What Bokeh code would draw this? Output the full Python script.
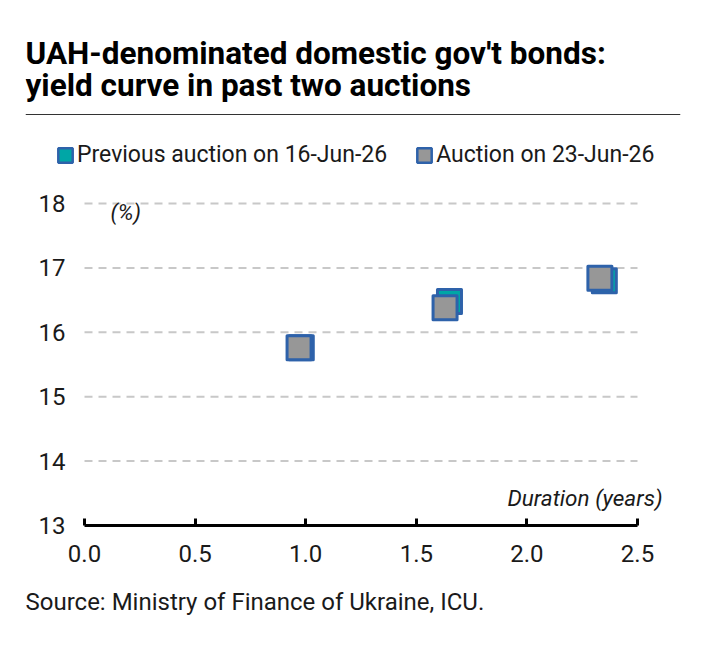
from bokeh.plotting import figure
from bokeh.models import (Label, Legend, LegendItem, BoxAnnotation, FixedTicker,
                          CustomJSTickFormatter, Title)
from bokeh.embed import file_html
from bokeh.resources import INLINE

# ---- data ----
dur_prev = [0.98, 1.65, 2.35]
yld_prev = [15.76, 16.48, 16.80]
dur_new = [0.97, 1.63, 2.33]
yld_new = [15.76, 16.38, 16.84]
x_ticks = [0.0, 0.5, 1.0, 1.5, 2.0, 2.5]
y_ticks = [13, 14, 15, 16, 17, 18]
series_names = ["Previous auction on 16-Jun-26", "Auction on 23-Jun-26"]
title_lines = ["UAH-denominated domestic gov't bonds:", "yield curve in past two auctions"]
source_text = "Source: Ministry of Finance of Ukraine, ICU."

FONT = "Roboto"
TXT = "#1a1a1a"
TEAL = "#00a6a6"
GREY = "#979797"
BLUE = "#2e62aa"

W, H = 704, 651
L, R, T, B = 25, 24, 0, 126          # frame: canvas x 25..680, y 0..525
AX0, AX1 = 84, 637                   # canvas x of 0.0 and 2.5
Y18, Y13 = 203, 525                  # canvas y of 18 and 13
pxx = (AX1 - AX0) / (x_ticks[-1] - x_ticks[0])
pxy = (Y13 - Y18) / (y_ticks[-1] - y_ticks[0])
x_start = x_ticks[0] - (AX0 - L) / pxx
x_end = x_ticks[0] + (W - R - AX0) / pxx
y_end = y_ticks[-1] + (Y18 - T) / pxy

p = figure(width=W, height=H, output_backend="svg", toolbar_location=None,
           x_range=(x_start, x_end), y_range=(y_ticks[0], y_end),
           min_border_left=L, min_border_right=R, min_border_top=T, min_border_bottom=B)
p.outline_line_color = None
p.background_fill_color = "white"
p.border_fill_color = "white"
p.grid.visible = False

# dashed horizontal gridlines over the axis extent
p.segment(x0=[x_ticks[0]] * len(y_ticks), x1=[x_ticks[-1]] * len(y_ticks),
          y0=y_ticks, y1=y_ticks, line_color="#c8c8c8", line_width=2, line_dash="8 6")

xa = p.xaxis[0]
xa.ticker = FixedTicker(ticks=x_ticks)
xa.bounds = (x_ticks[0], x_ticks[-1])
xa.formatter = CustomJSTickFormatter(code="return tick.toFixed(1);")
xa.axis_line_width = 3
xa.axis_line_color = "black"
xa.major_tick_in = 7
xa.major_tick_out = 0
xa.major_tick_line_width = 3
xa.major_tick_line_color = "black"
xa.minor_tick_line_color = None
xa.minor_tick_in = 0
xa.minor_tick_out = 0
xa.major_label_text_font = FONT
xa.major_label_text_font_size = "24px"
xa.major_label_text_color = TXT
xa.major_label_standoff = 19

ya = p.yaxis[0]
ya.ticker = FixedTicker(ticks=y_ticks)
ya.bounds = (y_ticks[0], y_ticks[-1])
ya.axis_line_color = None
ya.major_tick_line_color = None
ya.minor_tick_line_color = None
ya.major_tick_in = 0
ya.major_tick_out = 0
ya.minor_tick_in = 0
ya.minor_tick_out = 0
ya.major_label_text_font = FONT
ya.major_label_text_font_size = "24px"
ya.major_label_text_color = TXT
ya.major_label_standoff = -(65 - L)

# zero-size quads at the data points: only used to give the legend square swatches
q1 = p.quad(left=dur_prev, right=dur_prev, top=yld_prev, bottom=yld_prev,
            fill_color=TEAL, line_color=BLUE, line_width=2.5)
q2 = p.quad(left=dur_new, right=dur_new, top=yld_new, bottom=yld_new,
            fill_color=GREY, line_color=BLUE, line_width=2.5)

p.scatter(dur_prev, yld_prev, marker="square", size=24, fill_color=TEAL,
          line_color=BLUE, line_width=3, line_join="round")
p.scatter(dur_new, yld_new, marker="square", size=24, fill_color=GREY,
          line_color=BLUE, line_width=3, line_join="round")

fb = H - B  # canvas y of frame bottom


def sx(cx):
    return cx - L


def sy(cy):
    return fb - cy


legend = Legend(items=[LegendItem(label=series_names[0], renderers=[q1]),
                       LegendItem(label=series_names[1], renderers=[q2])],
                orientation="horizontal", location=(sx(56), sy(168)),
                padding=0, margin=0, spacing=28, label_standoff=3,
                glyph_width=18, glyph_height=18,
                label_text_font=FONT, label_text_font_size="23px",
                label_text_color=TXT, label_text_baseline="middle",
                border_line_color=None, background_fill_alpha=0)
p.add_layout(legend, "center")

p.add_layout(Label(x=sx(25), y=sy(53), x_units="screen", y_units="screen",
                   text=title_lines[0], text_font=FONT, text_font_style="bold",
                   text_font_size="31.5px", text_color="black", text_baseline="alphabetic"))
p.add_layout(Label(x=sx(25), y=sy(85), x_units="screen", y_units="screen",
                   text=title_lines[1], text_font=FONT, text_font_style="bold",
                   text_font_size="31.5px", text_color="black", text_baseline="alphabetic"))
p.add_layout(BoxAnnotation(left=sx(25), right=sx(680), top=sy(113.4), bottom=sy(114.6),
                           left_units="screen", right_units="screen",
                           top_units="screen", bottom_units="screen",
                           fill_color="#333333", fill_alpha=1, line_color=None))
p.add_layout(Label(x=sx(110), y=sy(212), x_units="screen", y_units="screen",
                   text="(%)", text_font=FONT, text_font_style="italic",
                   text_font_size="22px", text_color=TXT, text_baseline="middle"))
p.add_layout(Label(x=sx(662), y=sy(497), x_units="screen", y_units="screen",
                   text="Duration (years)", text_font=FONT, text_font_style="italic",
                   text_font_size="22.5px", text_color=TXT, text_baseline="middle",
                   text_align="right"))

p.add_layout(Title(text=source_text, align="left", offset=0, standoff=43,
                   text_font=FONT, text_font_style="normal", text_font_size="24px",
                   text_color=TXT), "below")

open("out.html", "w").write(file_html(p, INLINE))
